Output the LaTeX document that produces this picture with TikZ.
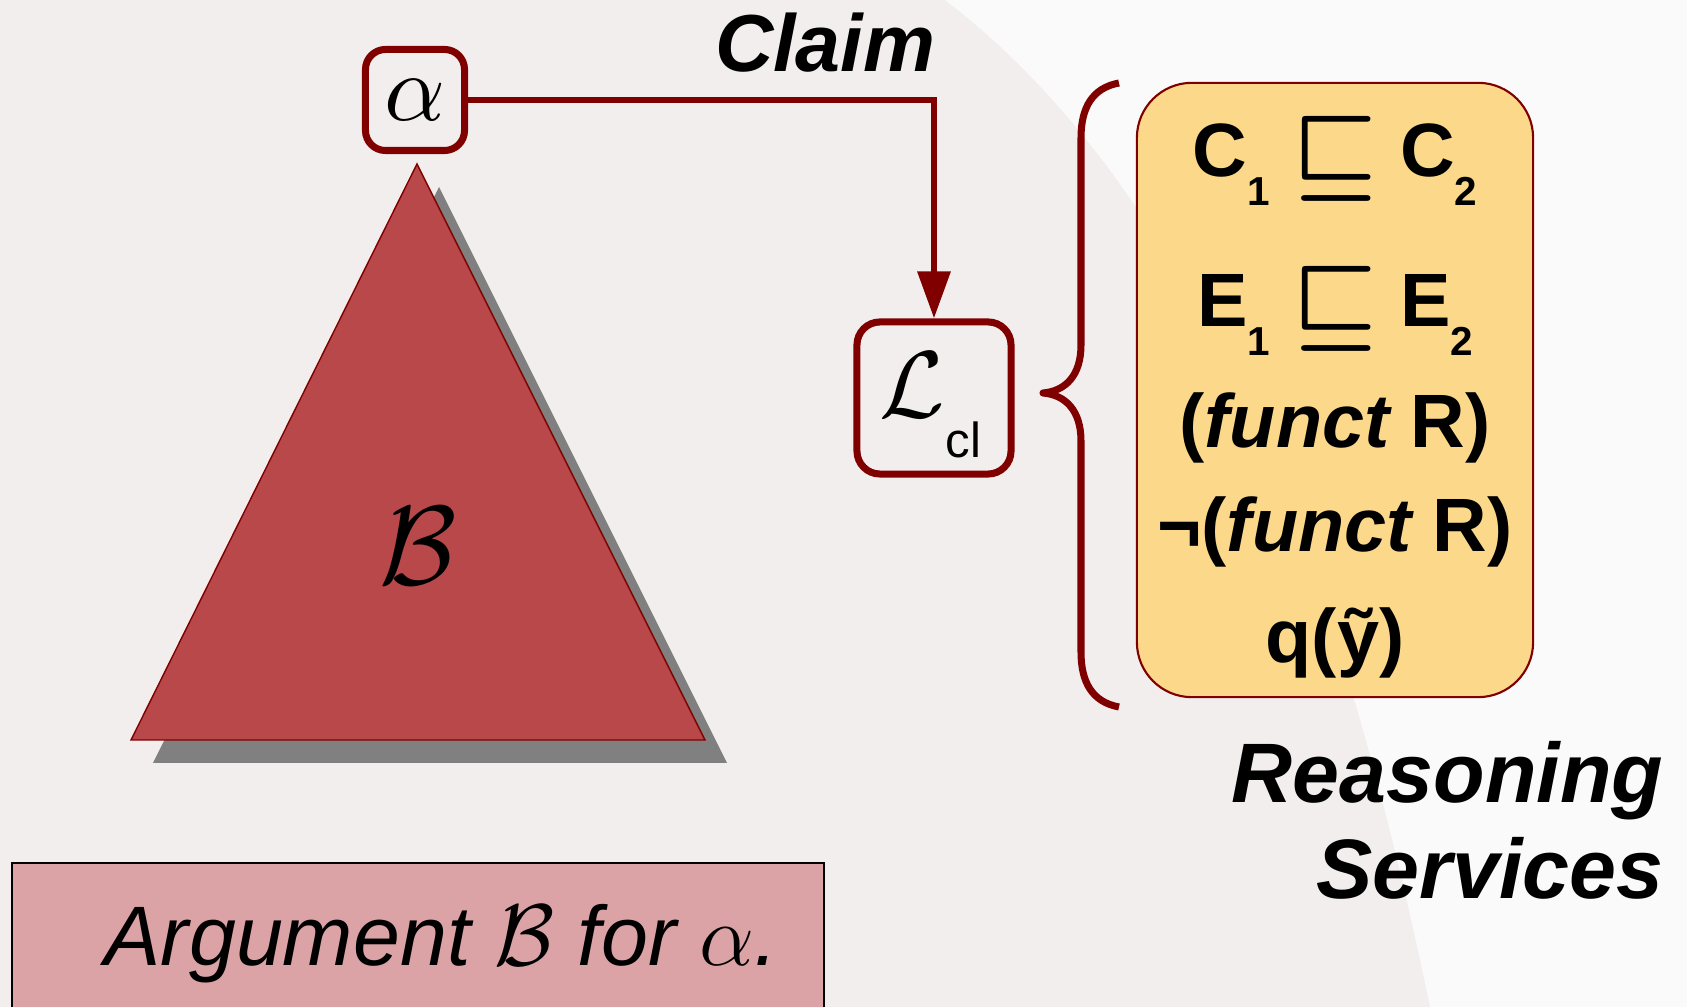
\documentclass[tikz,border=0pt]{standalone}
\usepackage{amsmath,amssymb}
\usepackage{fontspec}
\setmainfont{Liberation Sans}
\usetikzlibrary{arrows.meta}
\definecolor{bgc}{RGB}{242,238,238}
\definecolor{bglight}{RGB}{250,250,250}
\definecolor{dred}{RGB}{128,0,0}
\definecolor{trired}{RGB}{184,72,73}
\definecolor{shadowgray}{RGB}{128,128,128}
\definecolor{argfill}{RGB}{219,163,166}
\definecolor{yel}{RGB}{251,216,138}
\newcommand{\lsub}[1]{\raisebox{-8pt}{\fontsize{11.5}{11.5}\selectfont #1}}
\newcommand{\sqse}{\raisebox{-1.5pt}{\scalebox{1.3}{$\boldsymbol{\sqsubseteq}$}}}
\tikzset{
  rbox/.style={draw=dred, line width=2pt, inner sep=0pt},
  conn/.style={draw=dred, line width=1.8pt, -{Triangle[length=0.47cm,width=0.32cm]}},
  bracestyle/.style={draw=dred, line width=2pt, line join=round, line cap=butt},
  srv/.style={anchor=base, inner sep=0pt, font=\fontsize{21.5}{21.5}\selectfont\bfseries},
  bigbi/.style={inner sep=0pt, font=\fontsize{24}{24}\selectfont\bfseries\itshape},
}
\begin{document}
\begin{tikzpicture}[x=0.01cm,y=-0.01cm]
\clip (0,0) rectangle (1687,1007);
\useasboundingbox (0,0) rectangle (1687,1007);
% background
\fill[bgc] (0,0) rectangle (1687,1007);
\fill[bglight] (945,0) .. controls (1180,180) and (1330,520) .. (1430,1007) -- (1687,1007) -- (1687,0) -- cycle;

% triangle with shadow
\fill[shadowgray] (439,187) -- (153,763) -- (727,763) -- cycle;
\filldraw[fill=trired, draw=dred, line width=0.4pt] (417,164) -- (131,740) -- (705,740) -- cycle;
\node (bsym) at (418,546) {\scalebox{3.2}{$\mathcal{B}$}};

% alpha box
\node[rbox, rounded corners=0.2cm, minimum width=0.99cm, minimum height=1.01cm] (alpha) at (415,100) {\scalebox{2.7}{$\alpha$}};

% L_cl box
\node[rbox, rounded corners=0.23cm, minimum width=1.54cm, minimum height=1.52cm] (lcl) at (934,398) {};
\node (lsym) at (912,385) {\scalebox{2.7}{$\mathcal{L}$}};
\node[anchor=base west, inner sep=0pt] (clsub) at (945,458) {\fontsize{14}{14}\selectfont cl};

% claim connector
\draw[conn] (alpha.east) -- (alpha.east -| lcl.north) -- (lcl.north);
\node[anchor=base east, inner sep=0pt] (claim) at (936,72) {\fontsize{23}{23}\selectfont\bfseries\itshape Claim};

% brace
\draw[bracestyle] (1119,83) .. controls (1092,88) and (1081,108) .. (1081,138) -- (1081,345)
  .. controls (1081,375) and (1066,391) .. (1043,393)
  .. controls (1066,395) and (1081,411) .. (1081,441) -- (1081,652)
  .. controls (1081,682) and (1092,702) .. (1119,707);

% reasoning services box
\node[draw=dred, line width=0.6pt, fill=yel, rounded corners=0.55cm, minimum width=3.96cm, minimum height=6.14cm] (rsbox) at (1335,390) {};
\node[srv] (l1) at (1335,177) {C\lsub{1}\hspace{0.3em}\sqse\hspace{0.3em}C\lsub{2}};
\node[srv] (l2) at (1335,327) {E\lsub{1}\hspace{0.3em}\sqse\hspace{0.3em}E\lsub{2}};
\node[srv] (l3) at (1335,448) {({\itshape funct} R)};
\node[srv] (l4) at (1335,552) {¬({\itshape funct} R)};
\node[srv] (l5) at (1335,663) {q(ỹ)};

\node[bigbi, anchor=base east] (rs1) at (1664,803) {Reasoning};
\node[bigbi, anchor=base east] (rs2) at (1664,899) {Services};

% argument box
\node[draw=black, line width=0.5pt, fill=argfill, minimum width=8.12cm, minimum height=1.6cm, anchor=north west] (argbox) at (11,862) {};
\node[anchor=base west, inner sep=0pt] (argtext) at (104,966) {\fontsize{24}{24}\selectfont\itshape Argument $\mathcal{B}$ for $\alpha$.};
\end{tikzpicture}
\end{document}
